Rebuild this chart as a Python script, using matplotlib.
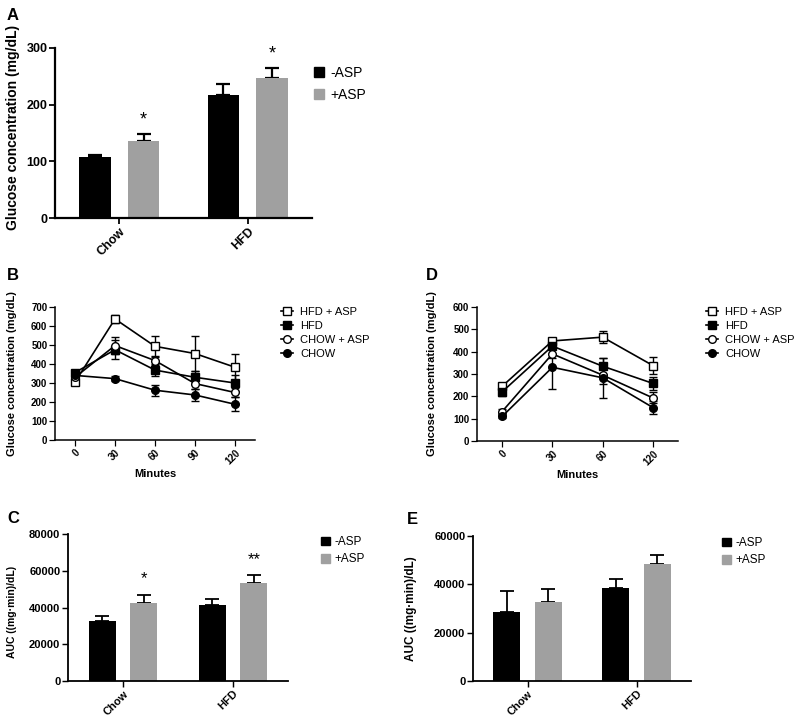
import numpy as np
import matplotlib
matplotlib.use("Agg")
import matplotlib.pyplot as plt
from matplotlib.lines import Line2D
from matplotlib.patches import Patch

plt.rcParams['font.family'] = ['Liberation Sans', 'DejaVu Sans']

W, H = 800, 719
BLACK = "#000000"
GRAY = "#a0a0a0"

# ---- data ----
groups = ["Chow", "HFD"]
bar_labels = ["-ASP", "+ASP"]

# panel A: fasting glucose
a_minus = [107, 217]
a_minus_err = [5, 19]
a_plus = [136, 247]
a_plus_err = [13, 18]
a_stars = ["*", "*"]

# panel C: AUC (GTT)
c_minus = [32400, 41600]
c_minus_err = [3100, 3100]
c_plus = [42500, 53600]
c_plus_err = [4400, 4000]
c_stars = ["*", "**"]

# panel E: AUC (ITT)
e_minus = [28700, 38600]
e_minus_err = [8700, 3500]
e_plus = [32800, 48300]
e_plus_err = [5200, 3900]

series_names = ["HFD + ASP", "HFD", "CHOW + ASP", "CHOW"]

# panel B
b_minutes = ["0", "30", "60", "90", "120"]
b_vals = [
    [305, 637, 493, 455, 383],
    [355, 475, 368, 330, 300],
    [330, 497, 418, 297, 250],
    [340, 323, 262, 237, 188],
]
b_errs = [
    [15, 22, 55, 90, 67],
    [15, 50, 30, 35, 40],
    [10, 45, 25, 30, 25],
    [10, 12, 28, 32, 38],
]

# panel D
d_minutes = ["0", "30", "60", "120"]
d_vals = [
    [245, 448, 465, 338],
    [220, 425, 335, 258],
    [132, 390, 295, 193],
    [110, 330, 283, 150],
]
d_errs = [
    [15, 10, 28, 38],
    [20, 15, 37, 30],
    [12, 20, 40, 25],
    [8, 95, 90, 28],
]

markers = ["s", "s", "o", "o"]
filled = [False, True, False, True]


def px_axes(fig, left, top, right, bottom):
    return fig.add_axes([left / W, 1 - bottom / H, (right - left) / W, (bottom - top) / H])


def style_axes(ax, lw, fs):
    for s in ["top", "right"]:
        ax.spines[s].set_visible(False)
    for s in ["left", "bottom"]:
        ax.spines[s].set_linewidth(lw)
    ax.tick_params(direction="out", length=4, width=lw * 0.8, labelsize=fs, pad=1.5)
    for lab in ax.get_yticklabels() + ax.get_xticklabels():
        lab.set_fontweight("bold")


def bar_panel(ax, minus, minus_err, plus, plus_err, ylim, yticks, lw, fs, stars=None, star_pad=0, star_fs=12):
    x = np.arange(len(groups))
    off, bw = 0.19, 0.245
    ax.bar(x - off, minus, bw, color=BLACK, zorder=2)
    ax.bar(x + off, plus, bw, color=GRAY, zorder=2)
    ax.errorbar(x - off, minus, yerr=[np.zeros(len(x)), minus_err], fmt="none",
                ecolor=BLACK, elinewidth=lw, capsize=5, capthick=lw, zorder=1)
    ax.errorbar(x + off, plus, yerr=[np.zeros(len(x)), plus_err], fmt="none",
                ecolor=BLACK, elinewidth=lw, capsize=5, capthick=lw, zorder=1)
    if stars:
        for i, s in enumerate(stars):
            ax.text(x[i] + off, plus[i] + plus_err[i] + star_pad, s, ha="center",
                    va="bottom", fontsize=star_fs)
    ax.set_xlim(-0.5, 1.5)
    ax.set_ylim(*ylim)
    ax.set_yticks(yticks)
    ax.set_xticks(x)
    ax.set_xticklabels(groups, rotation=45, ha="right", rotation_mode="anchor")
    style_axes(ax, lw, fs)


def line_panel(ax, minutes, vals, errs, ylim, yticks):
    x = np.arange(len(minutes))
    for i in range(len(vals)):
        ax.errorbar(x, vals[i], yerr=errs[i], color=BLACK, lw=1.2, elinewidth=1.0,
                    capsize=3, capthick=1.0, marker=markers[i], ms=5.5, mew=1.0,
                    mfc=BLACK if filled[i] else "white", mec=BLACK, zorder=3)
    ax.set_xlim(-0.5, len(minutes) - 0.5)
    ax.set_ylim(*ylim)
    ax.set_yticks(yticks)
    ax.set_xticks(x)
    ax.set_xticklabels(minutes, rotation=45, ha="right", rotation_mode="anchor")
    ax.set_xlabel("Minutes", fontsize=8, fontweight="bold", labelpad=2)
    style_axes(ax, 1.1, 7)


def line_legend(fig, ax, xa, ya):
    handles = [Line2D([], [], color=BLACK, lw=1.2, marker=markers[i], ms=5.5, mew=1.0,
                      mfc=BLACK if filled[i] else "white", mec=BLACK)
               for i in range(len(series_names))]
    ax.legend(handles, series_names, loc="upper left", bbox_to_anchor=(xa / W, 1 - ya / H),
              bbox_transform=fig.transFigure, frameon=False, fontsize=8,
              handlelength=1.1, handletextpad=0.6, labelspacing=0.35,
              borderpad=0, borderaxespad=0)


def bar_legend(fig, ax, xa, ya, fs, spacing):
    handles = [Patch(color=BLACK), Patch(color=GRAY)]
    ax.legend(handles, bar_labels, loc="upper left", bbox_to_anchor=(xa / W, 1 - ya / H),
              bbox_transform=fig.transFigure, frameon=False, fontsize=fs,
              handlelength=0.75, handleheight=0.75, handletextpad=0.4,
              labelspacing=spacing, borderpad=0, borderaxespad=0)


fig = plt.figure(figsize=(W / 100, H / 100), dpi=100)

# A
axA = px_axes(fig, 55, 48, 312, 218)
bar_panel(axA, a_minus, a_minus_err, a_plus, a_plus_err, (0, 300), [0, 100, 200, 300],
          1.6, 9, stars=a_stars, star_pad=9, star_fs=13)
axA.set_ylabel("Glucose concentration (mg/dL)", fontsize=10, fontweight="bold")
axA.yaxis.set_label_coords(-0.135, 0.53)
bar_legend(fig, axA, 314, 66, 10, 0.55)

# B
axB = px_axes(fig, 55, 307, 255, 440)
line_panel(axB, b_minutes, b_vals, b_errs, (0, 700), np.arange(0, 701, 100))
axB.set_ylabel("Glucose concentration (mg/dL)", fontsize=8, fontweight="bold")
axB.yaxis.set_label_coords(-0.19, 0.5)
line_legend(fig, axB, 281, 307)

# D
axD = px_axes(fig, 477, 307, 678, 441)
line_panel(axD, d_minutes, d_vals, d_errs, (0, 600), np.arange(0, 601, 100))
axD.set_ylabel("Glucose concentration (mg/dL)", fontsize=8, fontweight="bold")
axD.yaxis.set_label_coords(-0.2, 0.5)
line_legend(fig, axD, 706, 307)

# C
axC = px_axes(fig, 68, 534, 288, 681)
bar_panel(axC, c_minus, c_minus_err, c_plus, c_plus_err, (0, 80000),
          [0, 20000, 40000, 60000, 80000], 1.3, 8, stars=c_stars, star_pad=4500, star_fs=12)
axC.set_ylabel("AUC ((mg\u00b7min)/dL)", fontsize=7.5, fontweight="bold")
axC.yaxis.set_label_coords(-0.232, 0.47)
bar_legend(fig, axC, 321, 536, 8.5, 0.45)

# E
axE = px_axes(fig, 473, 536, 691, 681)
bar_panel(axE, e_minus, e_minus_err, e_plus, e_plus_err, (0, 60000),
          [0, 20000, 40000, 60000], 1.3, 8)
axE.set_ylabel("AUC ((mg\u00b7min)/dL)", fontsize=8.5, fontweight="bold")
axE.yaxis.set_label_coords(-0.257, 0.5)
bar_legend(fig, axE, 722, 537, 8.5, 0.45)

# panel letters
for letter, xp, yp in [("A", 7, 8), ("B", 7, 268), ("D", 426, 268), ("C", 7, 511), ("E", 407, 512)]:
    fig.text(xp / W, 1 - yp / H, letter, fontsize=12, fontweight="bold", ha="left", va="top")

fig.savefig("out.png", dpi=100)
